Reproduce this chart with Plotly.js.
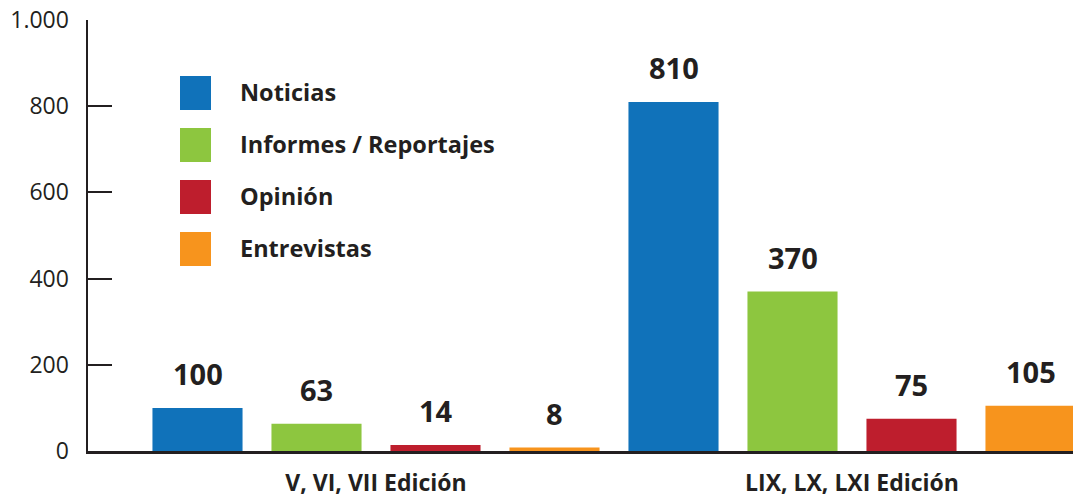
<!DOCTYPE html>
<html>
<head>
<meta charset="utf-8">
<script src="https://cdn.plot.ly/plotly-3.0.1.min.js"></script>
<style>html,body{margin:0;padding:0;background:#fff;}#chart{width:1073px;height:497px;}</style>
</head>
<body>
<div id="chart"></div>
<script>
const categories = ["V, VI, VII Edición", "LIX, LX, LXI Edición"];
const seriesNames = ["Noticias", "Informes / Reportajes", "Opinión", "Entrevistas"];
const noticias = [100, 810];
const informes = [63, 370];
const opinion = [14, 75];
const entrevistas = [8, 105];
const yTickVals = [0, 200, 400, 600, 800, 1000];

const seriesValues = [noticias, informes, opinion, entrevistas];
const colors = ["#1072ba", "#8dc63f", "#be1e2d", "#f7941d"];
const ink = "#231f20";
const FONT = "Open Sans, sans-serif";

const W = 1073, H = 497, L = 88, R = 0, T = 20, B = 46;
const plotW = W - L - R, plotH = H - T - B;
const catDist = 476;               // px between category centres
const slot = catDist / 4;          // px per bar slot
const xr0 = -(376 - L) / catDist;
const xr1 = xr0 + plotW / catDist;

const traces = seriesNames.map((name, i) => ({
  type: "bar",
  name: name,
  x: categories,
  y: seriesValues[i],
  marker: { color: colors[i], line: { width: 0 } },
  hoverinfo: "skip",
  showlegend: false
}));

const annotations = [];
const shapes = [];
seriesNames.forEach((name, i) => {
  seriesValues[i].forEach((v, j) => {
    annotations.push({
      x: categories[j], y: v, xref: "x", yref: "y",
      text: String(v), showarrow: false,
      xanchor: "center", yanchor: "bottom",
      xshift: (i - 1.5) * slot, yshift: 13,
      font: { family: FONT, size: 29, color: ink, weight: 700 }
    });
  });
  // custom legend
  const cy = 93 + i * 52;
  const px2x = p => (p - L) / plotW;
  const py2y = p => (H - B - p) / plotH;
  shapes.push({
    type: "rect", xref: "paper", yref: "paper",
    x0: px2x(180), x1: px2x(211), y0: py2y(cy + 17), y1: py2y(cy - 17),
    fillcolor: colors[i], line: { width: 0 }
  });
  annotations.push({
    xref: "paper", yref: "paper", x: px2x(238), y: py2y(cy - 1),
    xanchor: "left", yanchor: "middle", showarrow: false,
    text: "<b>" + name + "</b>",
    font: { family: FONT, size: 23.5, color: ink }
  });
});

const layout = {
  width: W, height: H,
  margin: { l: L, r: R, t: T, b: B, pad: 0 },
  paper_bgcolor: "#fff", plot_bgcolor: "#fff",
  separators: ",.",
  barmode: "group",
  bargap: 0,
  bargroupgap: 0.243,
  font: { family: FONT, color: ink },
  xaxis: {
    type: "category",
    range: [xr0, xr1],
    showgrid: false, zeroline: false,
    showline: true, linecolor: ink, linewidth: 2.5,
    ticks: "",
    tickfont: { family: FONT, size: 23, color: ink, weight: 700 },
    ticklabelstandoff: 10,
    fixedrange: true
  },
  yaxis: {
    range: [0, 1000],
    tickvals: yTickVals,
    tickformat: ",d",
    showgrid: false, zeroline: false,
    showline: true, linecolor: ink, linewidth: 2.5,
    ticks: "inside", ticklen: 24, tickwidth: 2, tickcolor: ink,
    tickfont: { family: FONT, size: 23, color: ink },
    ticklabelstandoff: 12,
    fixedrange: true
  },
  annotations: annotations,
  shapes: shapes
};

Plotly.newPlot("chart", traces, layout, { displayModeBar: false, staticPlot: true });
</script>
</body>
</html>
